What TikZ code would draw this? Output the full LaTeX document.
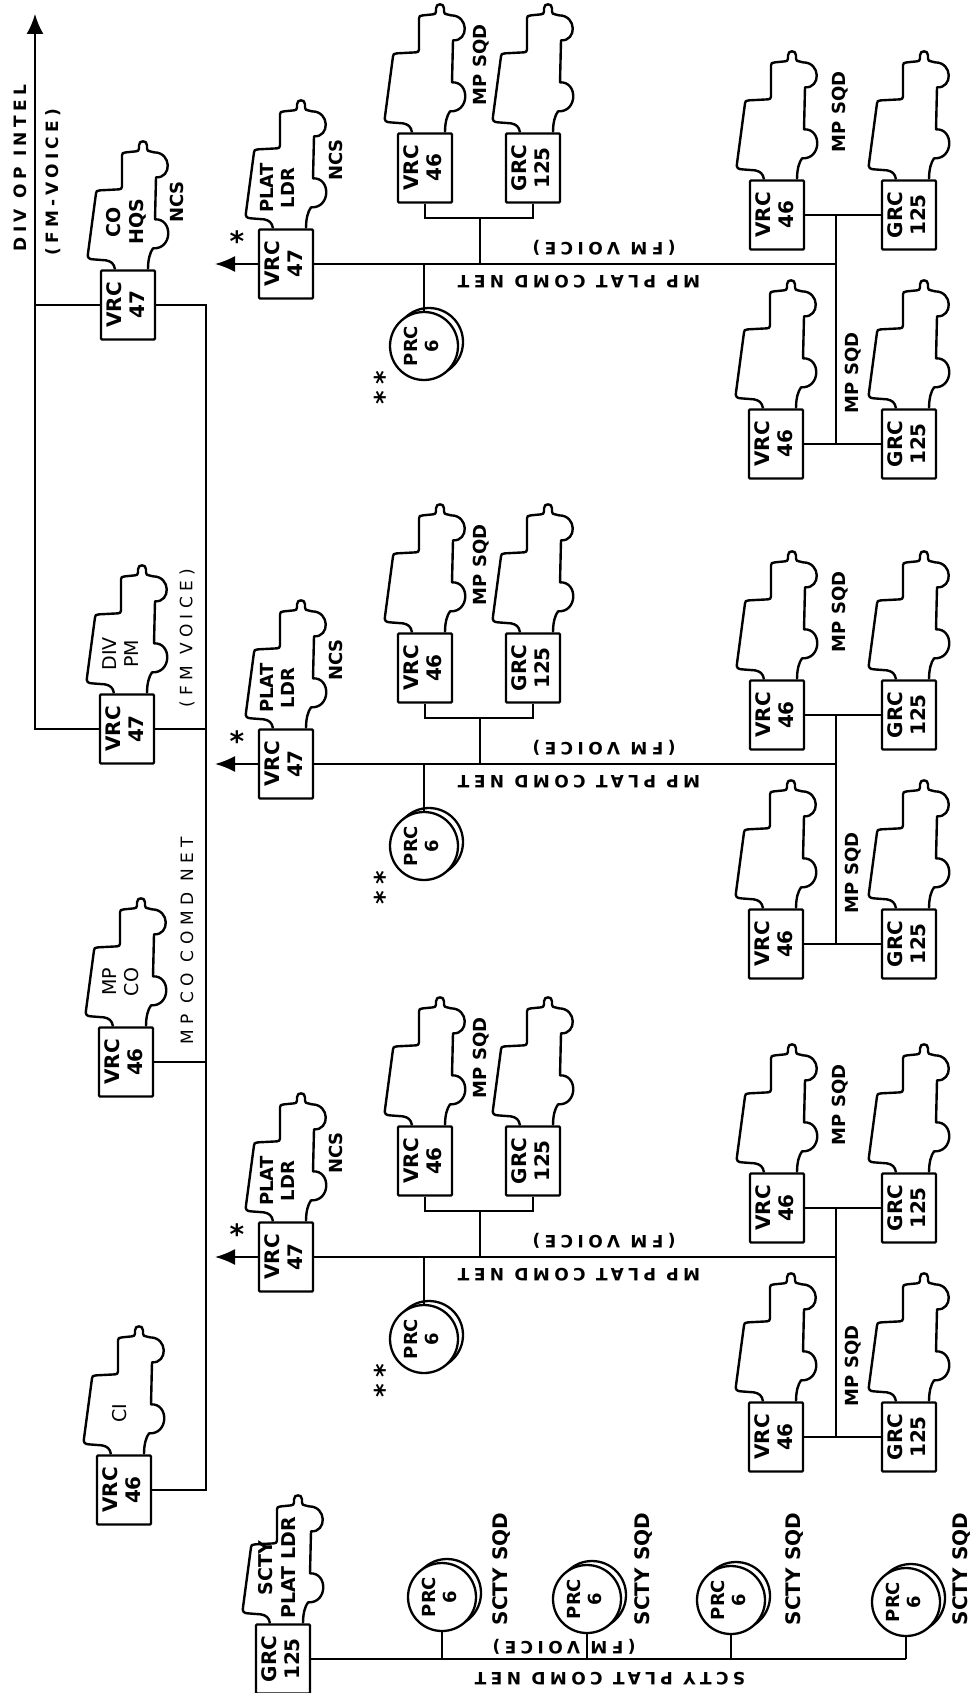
\documentclass[tikz,border=0pt]{standalone}
\usepackage{fontspec}
\setmainfont{DejaVu Sans}
\newfontfamily\trackb{DejaVu Sans}[LetterSpace=26]
\newfontfamily\trackr{DejaVu Sans}[LetterSpace=32]
\usetikzlibrary{arrows.meta}
\newcommand{\rt}[1]{\rotatebox{90}{\begin{tabular}{@{}c@{}}#1\end{tabular}}}
\tikzset{
 ln/.style={line width=1.9pt},
 radio/.style={draw, line width=2.3pt, fill=white, rounded corners=1pt, minimum width=54pt, minimum height=69pt, inner sep=0pt, font=\bfseries\fontsize{20}{23}\selectfont},
 prc/.style={draw, circle, line width=2.3pt, fill=white, minimum size=68pt, inner sep=0pt, font=\bfseries\fontsize{18}{21}\selectfont},
 shad/.style={draw, line width=2.3pt, fill=white},
 vehl/.style={line width=2.4pt, line join=round},
 lab/.style={inner sep=0pt, rotate=90, font=\bfseries\fontsize{18}{21}\selectfont},
 sqlab/.style={inner sep=0pt, rotate=90, font=\bfseries\fontsize{20}{23}\selectfont},
 netv/.style={inner sep=0pt, rotate=90, font=\trackb\bfseries\fontsize{17}{20}\selectfont},
 netu/.style={inner sep=0pt, rotate=180, font=\trackb\bfseries\fontsize{17}{20}\selectfont},
 netr/.style={inner sep=0pt, rotate=90, font=\trackr\fontsize{17}{20}\selectfont},
 vlab/.style={inner sep=0pt, font=\bfseries\fontsize{18}{21}\selectfont},
 vlabr/.style={inner sep=0pt, font=\fontsize{19}{22}\selectfont},
 star/.style={inner sep=0pt, font=\bfseries\fontsize{28}{30}\selectfont},
 stars/.style={inner sep=0pt, rotate=90, font=\trackb\bfseries\fontsize{26}{30}\selectfont},
 bigtip/.style={-{Latex[length=20pt,width=16pt]}},
 veh/.pic={\draw[vehl] (-13,0) .. controls (-14,-6) and (-17,-8) .. (-22,-9)
   -- (-35,-10) .. controls (-39,-10) and (-41,-12) .. (-40,-16)
   -- (-32,-76) .. controls (-32,-78) and (-31,-79) .. (-28,-79)
   -- (-9,-80) .. controls (-7,-80) and (-6,-81) .. (-6,-83)
   -- (-6,-114) .. controls (-6,-116) and (-5,-117) .. (-2,-117)
   -- (8,-118) .. controls (10,-118) and (11,-119) .. (11,-121)
   -- (11,-124) .. controls (11,-127) and (13,-128) .. (15,-128)
   .. controls (17,-128) and (19,-127) .. (19,-124)
   -- (19,-121) .. controls (19,-119) and (20,-118) .. (22,-118)
   -- (26,-117) .. controls (44,-117) and (44,-91) .. (28,-92)
   -- (27,-50) .. controls (45,-51) and (45,-20) .. (25,-21)
   .. controls (22,-17) and (20,-10) .. (20,0);}
}
\newcommand{\platoon}[2]{%
\begin{scope}[shift={(0,#2)}]
\node[radio] (#1ldr) at (286,264) {\rt{VRC\\47}};
\pic at (#1ldr.north) {veh};
\node[vlab] (#1ldrL) at (280,188) {\rt{PLAT\\LDR}};
\node[lab] (#1ncs) at (336,160) {NCS};
\node[star] (#1st) at (237,241) {*};
\coordinate (#1tip) at (215,264);
\draw[ln,bigtip] (#1ldr.west) -- (#1tip);
\node[radio] (#1av) at (425,168) {\rt{VRC\\46}};
\node[radio] (#1ag) at (533,168) {\rt{GRC\\125}};
\pic at (#1av.north) {veh};
\pic at (#1ag.north) {veh};
\node[lab] (#1aL) at (481,65) {MP SQD};
\coordinate (#1aj) at (480,218);
\coordinate (#1al) at (480,264);
\draw[ln] (#1av.south) |- (#1aj) -| (#1ag.south);
\draw[ln] (#1aj) -- (#1al);
\draw[shad] (429,342) circle (34);
\node[prc] (#1prc) at (424,346) {\rt{PRC\\6}};
\coordinate (#1pj) at (424,264);
\draw[ln] (#1pj) -- (#1prc.north);
\node[stars] (#1ss) at (384,388) {**};
\node[radio] (#1bv) at (777,215) {\rt{VRC\\46}};
\node[radio] (#1bg) at (909,215) {\rt{GRC\\125}};
\pic at (#1bv.north) {veh};
\pic at (#1bg.north) {veh};
\node[lab] (#1bL) at (840,112) {MP SQD};
\node[radio] (#1cv) at (776,444) {\rt{VRC\\46}};
\node[radio] (#1cg) at (909,444) {\rt{GRC\\125}};
\pic at (#1cv.north) {veh};
\pic at (#1cg.north) {veh};
\node[lab] (#1cL) at (853,373) {MP SQD};
\coordinate (#1bj) at (836,215);
\coordinate (#1cj) at (836,444);
\coordinate (#1end) at (836,264);
\draw[ln] (#1bv.east) -- (#1bj) -- (#1bg.west);
\draw[ln] (#1cv.east) -- (#1cj) -- (#1cg.west);
\draw[ln] (#1bj) -- (#1cj);
\draw[ln] (#1ldr.east) -- (#1end);
\node[netu] (#1fm) at (604,248) {(FM VOICE)};
\node[netu] (#1net) at (579,282) {MP PLAT COMD NET};
\end{scope}}
\newcommand{\prcsq}[4]{%
\draw[shad] (#2+5,#3-4) circle (34);
\node[prc] (#1) at (#2,#3) {\rt{PRC\\6}};
\draw[ln] (#1.south) -- (#1.south |- sEnd);
\node[sqlab] (#1L) at (#4,1569) {SCTY SQD};}
\begin{document}
\begin{tikzpicture}[x=1pt,y=-1pt]
\useasboundingbox (0,0) rectangle (972,1693);
\fill[white] (0,0) rectangle (972,1693);
% company level
\node[radio] (coR) at (128,305) {\rt{VRC\\47}};
\pic at (coR.north) {veh};
\node[vlab,font=\bfseries\fontsize{19}{23}\selectfont] (coL) at (127,222) {\rt{CO\\HQS}};
\node[lab] (coN) at (177,202) {NCS};
\node[radio] (pmR) at (127,729) {\rt{VRC\\47}};
\pic at (pmR.north) {veh};
\node[vlabr] (pmL) at (123,654) {\rt{DIV\\PM}};
\node[radio] (mcR) at (126,1062) {\rt{VRC\\46}};
\pic at (mcR.north) {veh};
\node[vlabr] (mcL) at (123,982) {\rt{MP\\CO}};
\node[radio] (ciR) at (124,1490) {\rt{VRC\\46}};
\pic at (ciR.north) {veh};
\node[vlabr] (ciL) at (122,1413) {\rt{CI}};
\coordinate (top) at (35,14);
\coordinate (jL1) at (35,305);
\coordinate (jL2) at (35,729);
\coordinate (jR1) at (206,305);
\coordinate (jR2) at (206,729);
\coordinate (jR3) at (206,1062);
\coordinate (jR4) at (206,1490);
\draw[ln] (coR.west) -- (jL1);
\draw[ln,-{Latex[length=20pt,width=17pt]}] (pmR.west) -- (jL2) -- (top);
\draw[ln] (coR.east) -- (jR1) -- (jR4) -- (ciR.east);
\draw[ln] (pmR.east) -- (jR2);
\draw[ln] (mcR.east) -- (jR3);
\node[netv] (intel) at (20,168) {DIV OP INTEL};
\node[netv] (fmv0) at (53,182) {(FM-VOICE)};
\node[netr] (fmv1) at (187,638) {(FM VOICE)};
\node[netr] (coNet) at (187,941) {MP CO COMD NET};
% platoons
\platoon{Pa}{0}
\platoon{Pb}{500}
\platoon{Pc}{993}
% security platoon
\node[radio] (scR) at (283,1659) {\rt{GRC\\125}};
\pic at (scR.north) {veh};
\node[vlab,font=\bfseries\fontsize{19}{23}\selectfont] (scL) at (279,1568) {\rt{SCTY\\PLAT LDR}};
\coordinate (sEnd) at (906,1659);
\draw[ln] (scR.east) -- (sEnd);
\prcsq{sa}{442}{1597}{502}
\prcsq{sb}{587}{1599}{644}
\prcsq{sc}{731}{1600}{795}
\prcsq{sd}{906}{1602}{962}
\node[netu] (sfm) at (564,1647) {(FM VOICE)};
\node[netu] (snet) at (610,1679) {SCTY PLAT COMD NET};
\end{tikzpicture}
\end{document}
